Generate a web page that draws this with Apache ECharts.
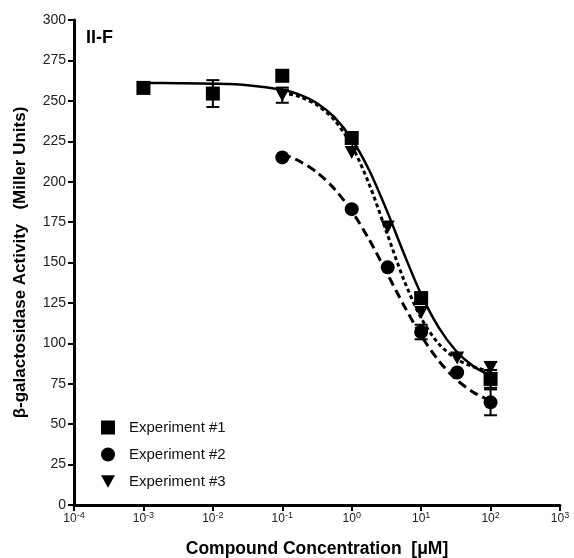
<!DOCTYPE html>
<html>
<head>
<meta charset="utf-8">
<script src="https://cdn.jsdelivr.net/npm/echarts@6/dist/echarts.min.js"></script>
<style>html,body{margin:0;padding:0;background:#fff}#chart{width:574px;height:558px}</style>
</head>
<body>
<div id="chart"></div>
<script>
// Concentrations (µM) and measured activity (Miller Units)
const conc1 = [0.001, 0.01, 0.1, 1, 10, 100];
const exp1 = [258, 254.5, 265.5, 227, 128, 78];
const err1 = [0, 8.3, 0, 0, 0, 5.5];

const conc2 = [0.1, 1, 3.3, 10, 33, 100];
const exp2 = [215, 183, 147, 107, 82, 63.5];
const err2 = [0, 0, 0, 4.5, 0, 8];

const conc3 = [0.1, 1, 3.3, 10, 33, 100];
const exp3 = [253.5, 218, 172, 119, 91, 85];
const err3 = [4.7, 0, 0, 0, 0, 3.5];

// Fitted curves (x = log10 concentration)
const curveX1 = [-3, -2.5, -2, -1.5, -1, -0.75, -0.5, -0.25, 0, 0.25, 0.5, 0.75, 1, 1.25, 1.5, 1.75, 2];
const curveY1 = [261, 260.9, 260.6, 259.7, 256.9, 253.8, 248.5, 239.9, 226.4, 207.2, 182.7, 155.7, 130.3, 110, 95.4, 85.9, 80.1];
const curveX2 = [-1, -0.75, -0.5, -0.25, 0, 0.25, 0.5, 0.75, 1, 1.25, 1.5, 1.75, 2];
const curveY2 = [217.2, 212.6, 205.7, 195.6, 181.8, 164.3, 144.1, 123.6, 104.8, 89.4, 77.9, 69.8, 64.4];
const curveX3 = [-1, -0.75, -0.5, -0.25, 0, 0.25, 0.5, 0.75, 1, 1.25, 1.5, 1.75, 2];
const curveY3 = [255.2, 252.5, 247.4, 238.1, 222.3, 198.6, 169, 139.4, 115.7, 99.9, 90.6, 85.5, 82.8];

const seriesNames = ['Experiment #1', 'Experiment #2', 'Experiment #3'];
const xTickMin = -4, xTickMax = 3;
const yTickMin = 0, yTickMax = 300, yTickStep = 25;

const FONT = "'Liberation Sans', Arial, sans-serif";
const triDown = 'path://M0,0 L10,0 L5,9 Z';

function pts(conc, vals) { return conc.map((c, i) => [Math.log10(c), vals[i]]); }
function errPts(conc, vals, errs) {
  const out = [];
  conc.forEach((c, i) => { if (errs[i] > 0) out.push([Math.log10(c), vals[i] - errs[i], vals[i] + errs[i]]); });
  return out;
}
function curve(xs, ys) { return xs.map((x, i) => [x, ys[i]]); }

function errRender(params, api) {
  const x = api.value(0);
  const lo = api.coord([x, api.value(1)]);
  const hi = api.coord([x, api.value(2)]);
  const hw = 6.5;
  const st = { stroke: '#000', lineWidth: 2 };
  return {
    type: 'group',
    children: [
      { type: 'line', shape: { x1: lo[0], y1: lo[1], x2: hi[0], y2: hi[1] }, style: st },
      { type: 'line', shape: { x1: lo[0] - hw, y1: lo[1], x2: lo[0] + hw, y2: lo[1] }, style: st },
      { type: 'line', shape: { x1: hi[0] - hw, y1: hi[1], x2: hi[0] + hw, y2: hi[1] }, style: st }
    ]
  };
}

const chart = echarts.init(document.getElementById('chart'));
chart.setOption({
  animation: false,
  backgroundColor: '#fff',
  textStyle: { fontFamily: FONT },
  title: {
    text: 'II-F', left: 86, top: 29, padding: 0,
    textStyle: { fontSize: 18, fontWeight: 'bold', color: '#000', fontFamily: FONT }
  },
  grid: { left: 74, right: 14, top: 20, bottom: 53, containLabel: false, outerBoundsMode: 'none' },
  legend: {
    data: seriesNames,
    orient: 'vertical', left: 101, top: 420, padding: 0,
    itemWidth: 14, itemHeight: 14, itemGap: 12,
    textStyle: { fontSize: 15, color: '#111', fontFamily: FONT, padding: [0, 0, 0, 9] },
    selectedMode: false
  },
  xAxis: {
    type: 'value', min: xTickMin, max: xTickMax, interval: 1,
    name: 'Compound Concentration  [\u03BCM]',
    nameLocation: 'middle', nameGap: 35,
    nameTextStyle: { fontSize: 17.5, fontWeight: 'bold', color: '#000', fontFamily: FONT },
    axisLine: { onZero: false, lineStyle: { color: '#000', width: 3 } },
    axisTick: { length: 6, lineStyle: { color: '#000', width: 2 } },
    splitLine: { show: false },
    axisLabel: {
      margin: 6, color: '#222',
      formatter: v => '{b|10}{s|' + v + '}',
      rich: {
        b: { fontSize: 12, color: '#222', fontFamily: FONT },
        s: { fontSize: 9, color: '#222', fontFamily: FONT, padding: [0, 0, 7, 0] }
      }
    }
  },
  yAxis: {
    type: 'value', min: yTickMin, max: yTickMax, interval: yTickStep,
    name: '\u03B2-galactosidase Activity   (Miller Units)',
    nameLocation: 'middle', nameGap: 45,
    nameTextStyle: { fontSize: 17, fontWeight: 'bold', color: '#000', fontFamily: FONT },
    axisLine: { onZero: false, lineStyle: { color: '#000', width: 3 } },
    axisTick: { length: 6, lineStyle: { color: '#000', width: 2 } },
    splitLine: { show: false },
    axisLabel: { margin: 8, fontSize: 14, color: '#222', fontFamily: FONT }
  },
  series: [
    { name: 'fit1', type: 'line', data: curve(curveX1, curveY1), smooth: 0.3, showSymbol: false, silent: true, z: 2,
      lineStyle: { color: '#000', width: 2.5, type: 'solid' } },
    { name: 'fit2', type: 'line', data: curve(curveX2, curveY2), smooth: 0.3, showSymbol: false, silent: true, z: 2,
      lineStyle: { color: '#000', width: 3, type: [9, 5] } },
    { name: 'fit3', type: 'line', data: curve(curveX3, curveY3), smooth: 0.3, showSymbol: false, silent: true, z: 2,
      lineStyle: { color: '#000', width: 3, type: [4, 3] } },
    { name: 'err1', type: 'custom', renderItem: errRender, data: errPts(conc1, exp1, err1), z: 3 },
    { name: 'err2', type: 'custom', renderItem: errRender, data: errPts(conc2, exp2, err2), z: 3 },
    { name: 'err3', type: 'custom', renderItem: errRender, data: errPts(conc3, exp3, err3), z: 3 },
    { name: seriesNames[0], type: 'scatter', data: pts(conc1, exp1), symbol: 'rect', symbolSize: 14, z: 4,
      itemStyle: { color: '#000', opacity: 1 } },
    { name: seriesNames[1], type: 'scatter', data: pts(conc2, exp2), symbol: 'circle', symbolSize: 14, z: 4,
      itemStyle: { color: '#000', opacity: 1 } },
    { name: seriesNames[2], type: 'scatter', data: pts(conc3, exp3), symbol: triDown, symbolSize: [14, 13], z: 4,
      itemStyle: { color: '#000', opacity: 1 } }
  ]
});
</script>
</body>
</html>
